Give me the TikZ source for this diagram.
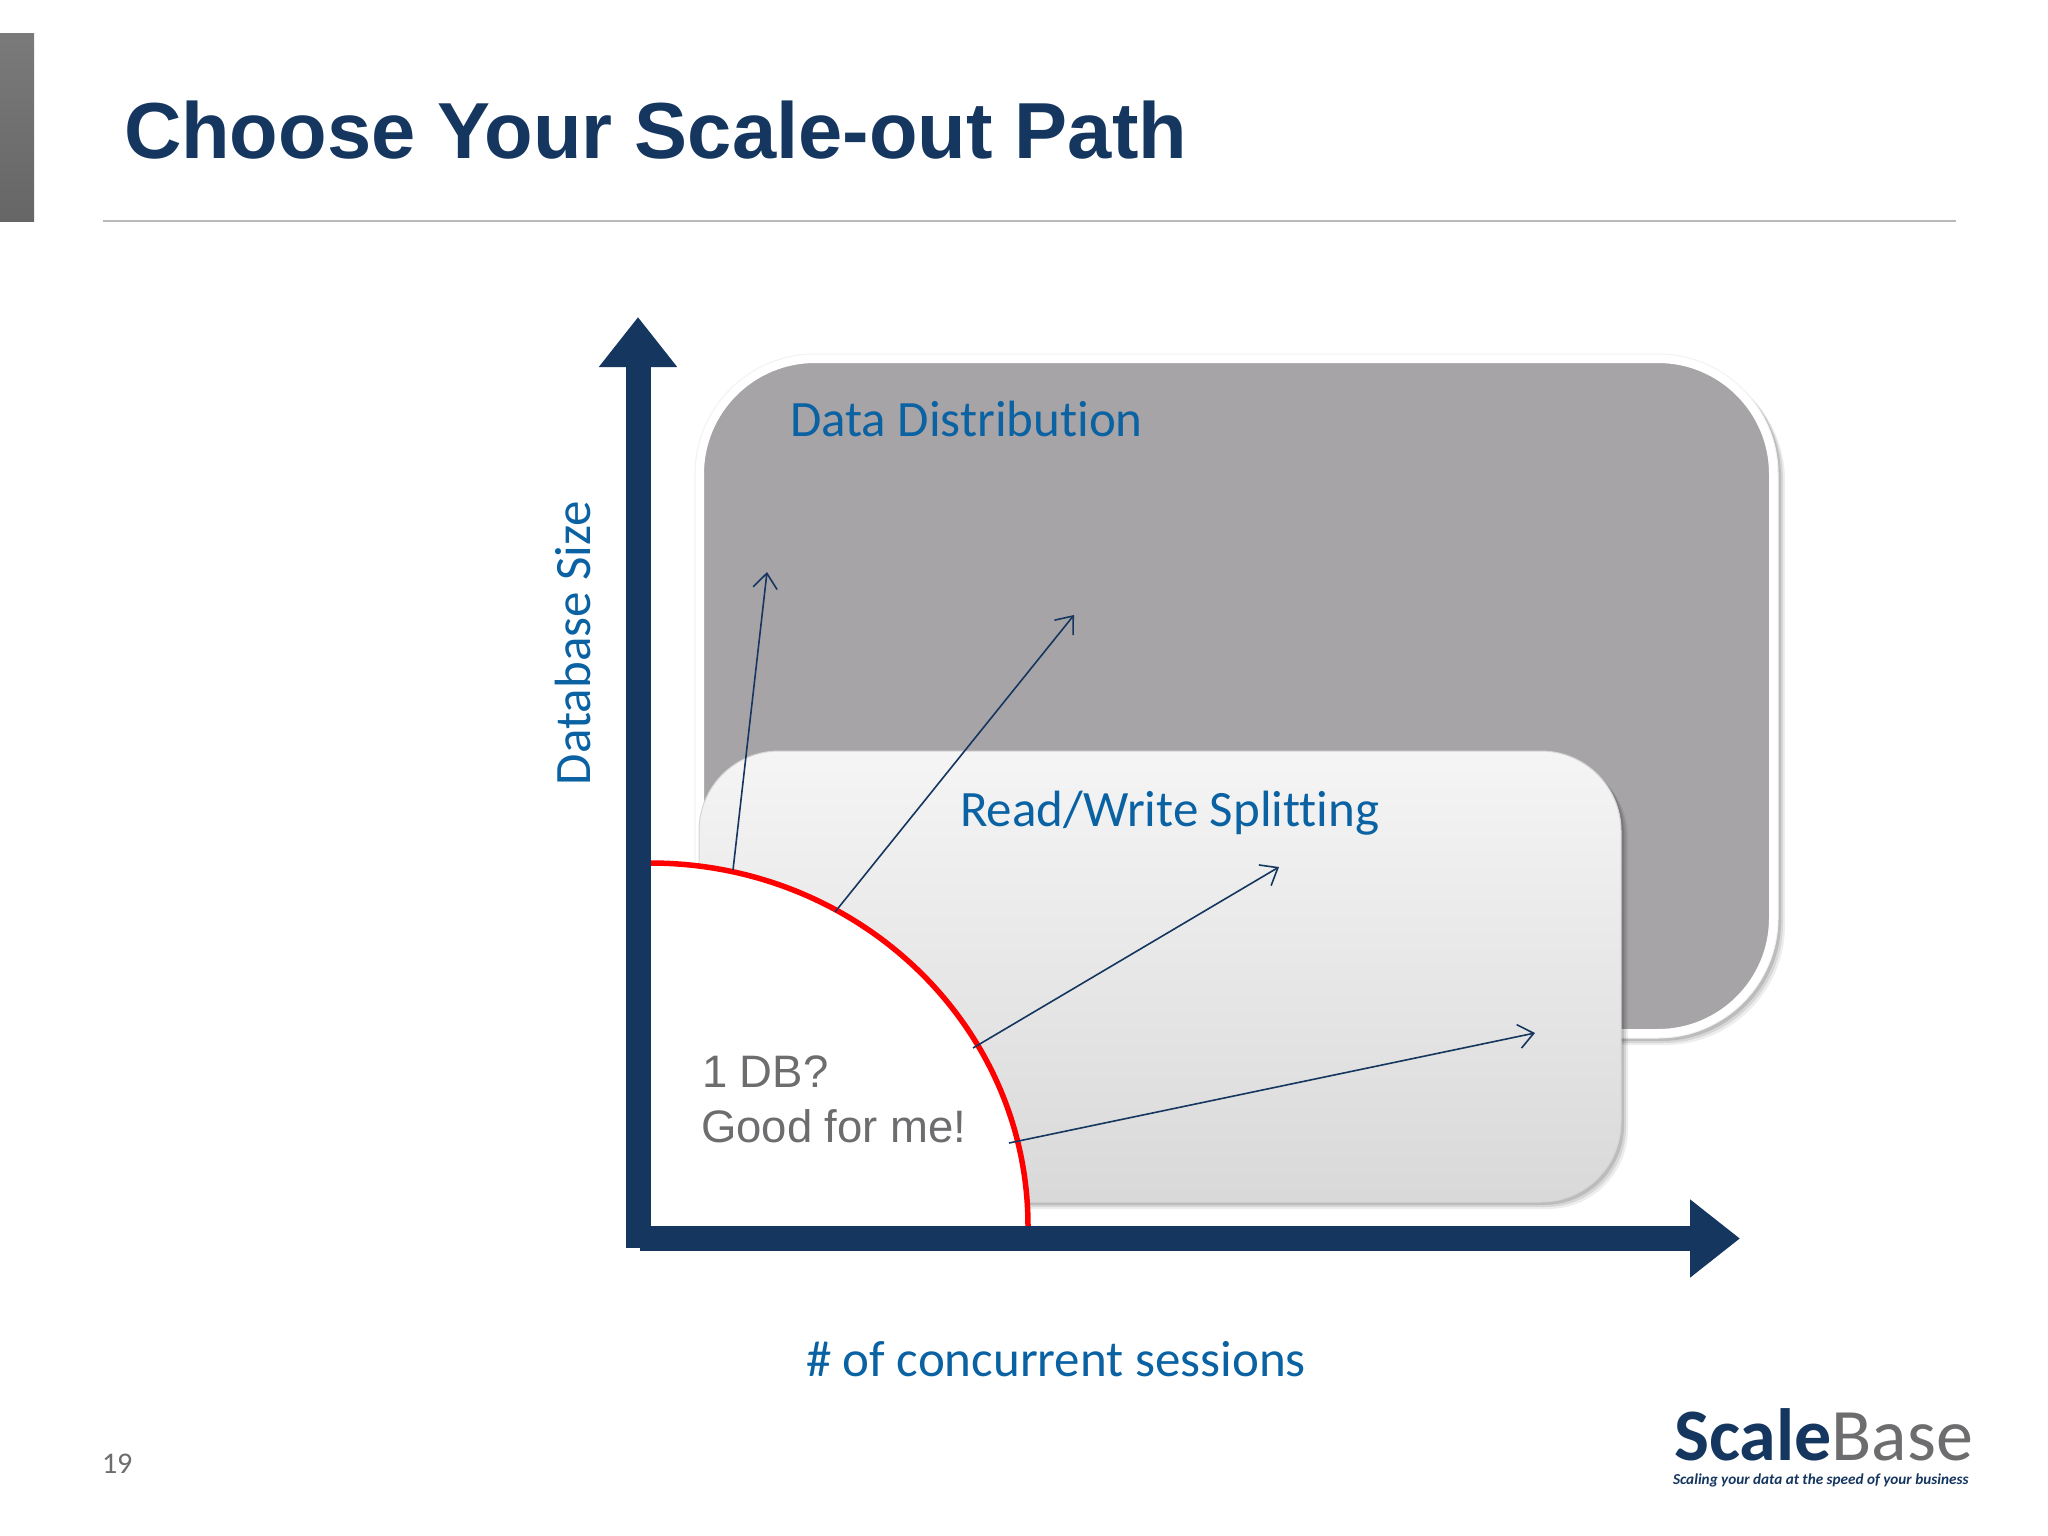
\documentclass[tikz,border=0pt]{standalone}
\usepackage{xcolor}
\usepackage{fontspec}
\usepackage{tikz}
\usetikzlibrary{arrows.meta}
\usetikzlibrary{shadows}
\setmainfont{Liberation Sans}
\newfontfamily\carlito[Ligatures=NoCommon]{Carlito}
\definecolor{navy}{HTML}{15365F}
\definecolor{labelblue}{HTML}{0A62A3}
\definecolor{textgrey}{HTML}{6D6D6F}
\definecolor{distgrey}{HTML}{A6A4A7}
\tikzset{
  txt/.style={inner sep=0pt,outer sep=0pt,anchor=base west},
  label/.style={txt,text=labelblue,font=\carlito\fontsize{51}{51}\selectfont},
  axisline/.style={navy,line width=25pt,-{Triangle[length=50pt,width=75pt]}},
  path/.style={navy,line width=1.6pt,-{Straight Barb[length=15pt,width=24pt]}},
  softshadow/.style={
    drop shadow={shadow xshift=7pt,shadow yshift=-7pt,opacity=.07,fill=black},
    drop shadow={shadow xshift=5pt,shadow yshift=-5pt,opacity=.09,fill=black},
    drop shadow={shadow xshift=3pt,shadow yshift=-3pt,opacity=.12,fill=black}}
}

\begin{document}
\begin{tikzpicture}[x=1pt,y=-1pt]
\useasboundingbox (0,0) rectangle (2048,1536);
\fill[white] (0,0) rectangle (2048,1536);
\shade[top color=black!52,bottom color=black!60] (0,34) rectangle (34,221);
\node at (124,158) (title) [txt,text=navy,font=\bfseries\fontsize{79.5}{79.5}\selectfont] {Choose Your Scale-out Path};
\coordinate (ruleL) at (103,221);
\coordinate (ruleR) at (1956,221);
\draw[black!27,line width=1.6pt] (ruleL) -- (ruleR);

\node at (1236.5,696) (disthalo) [draw=black!5,line width=1pt,rounded corners=120pt,minimum width=1083pt,minimum height=684pt,outer sep=0pt,softshadow,fill=white] {};
\node at (1236.5,696) (dist) [draw=white,line width=8pt,fill=distgrey,rounded corners=115pt,minimum width=1073pt,minimum height=674pt,outer sep=0pt] {};
\node at (1160,976.5) (split) [top color=black!4,bottom color=black!15,draw=black!17,line width=1pt,rounded corners=80pt,minimum width=922pt,minimum height=451pt,outer sep=0pt,softshadow] {};
\node at (790,436) (distlabel) [label] {Data Distribution};
\node at (960,826) (splitlabel) [label] {Read/Write Splitting};

\coordinate (origin) at (650,1226);
\coordinate (arcT) at (650,863);
\coordinate (arcR) at (1028,1226);
\fill[white] (origin) -- (arcT) .. controls (859,863) and (1028,1026) .. (arcR) -- cycle;
\draw[red,line width=5.5pt] (arcT) .. controls (859,863) and (1028,1026) .. (arcR);

\coordinate (p1) at (733,870);
\coordinate (q1) at (767,572);
\coordinate (p2) at (835,912);
\coordinate (q2) at (1074,615);
\coordinate (p3) at (973,1048);
\coordinate (q3) at (1279,867);
\coordinate (p4) at (1009,1143);
\coordinate (q4) at (1535,1033);
\draw[path] (p1) -- (q1);
\draw[path] (p2) -- (q2);
\draw[path] (p3) -- (q3);
\draw[path] (p4) -- (q4);

\coordinate (yfoot) at (638,1248);
\coordinate (ytop) at (638,317);
\coordinate (xfoot) at (640,1238.5);
\coordinate (xtip) at (1740,1238.5);
\draw[axisline] (yfoot) -- (ytop);
\draw[axisline] (xfoot) -- (xtip);

\node at (702,1087) (onedb) [txt,text=textgrey,font=\fontsize{45.5}{45.5}\selectfont] {1 DB?};
\node at (701,1142) (good) [txt,text=textgrey,font=\fontsize{45.5}{45.5}\selectfont] {Good for me!};
\node at (590,785) (ylabel) [label,rotate=90] {Database Size};
\node at (806,1376) (xlabel) [label] {\# of concurrent sessions};
\node at (102,1473) (pagenum) [txt,text=textgrey,font=\carlito\fontsize{30}{30}\selectfont] {19};

\node at (1674,1460) (scale) [txt,text=navy,font=\carlito\bfseries\fontsize{74}{74}\selectfont] {Scale};
\node at (scale.base east) (base) [txt,text=textgrey,font=\carlito\fontsize{74}{74}\selectfont] {Base};
\node at (1673,1484) (tagline) [txt,text=navy,font=\carlito\bfseries\itshape\fontsize{15.2}{15.2}\selectfont] {Scaling your data at the speed of your business};
\end{tikzpicture}
\end{document}
